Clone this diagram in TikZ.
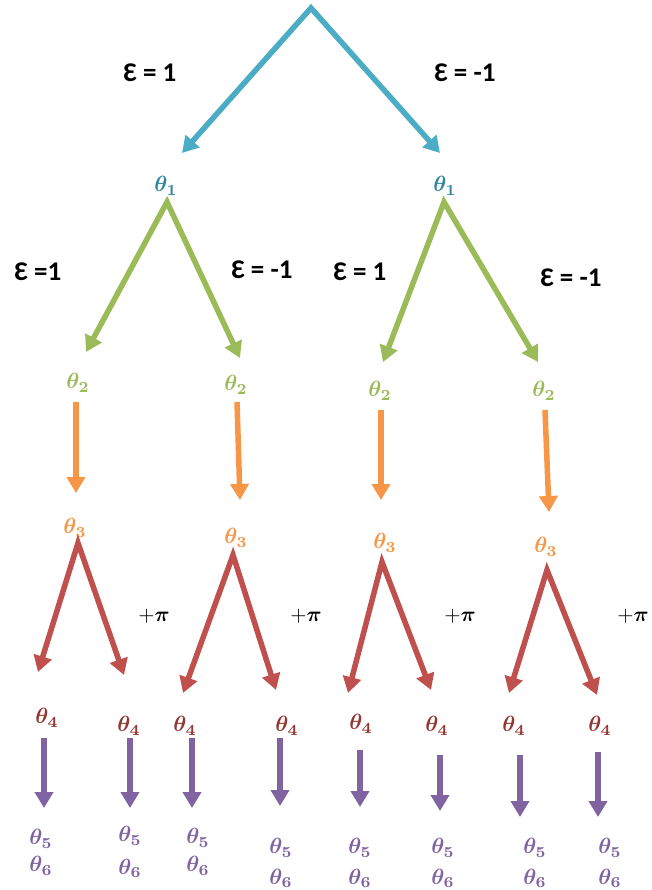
\documentclass[tikz,border=0pt]{standalone}
\usepackage{graphicx}
\usepackage{fontspec}
\setmainfont{Carlito}
\usepackage{bm}
\usetikzlibrary{arrows.meta}
\definecolor{cblue}{HTML}{4BACC6}
\definecolor{cbluet}{HTML}{31859C}
\definecolor{cgreen}{HTML}{9BBB59}
\definecolor{corange}{HTML}{F79646}
\definecolor{cred}{HTML}{C0504D}
\definecolor{cdred}{HTML}{943634}
\definecolor{cpurple}{HTML}{8064A2}
\newcommand\thetalab[1]{\scalebox{2.2}{$\bm{\theta_{#1}}$}}
\newcommand\pilab{\scalebox{2.1}{$+\bm{\pi}$}}
\tikzset{
  tipA/.tip={Triangle[width=18pt,length=16pt]},
  varr/.style={line width=5.5pt,line join=miter,{tipA}-{tipA}},
  sarr/.style={line width=5.5pt,-{tipA}},
  eps/.style={font=\fontsize{27}{30}\selectfont\bfseries,inner sep=0pt},
  thl/.style={inner sep=0pt},
  pil/.style={inner sep=0pt},
}
\begin{document}
\begin{tikzpicture}[x=1pt,y=-1pt]
\useasboundingbox[fill=white] (0,0) rectangle (651,890);
% ---- level 0 -> 1 (blue)
\coordinate (root) at (311,8);
\coordinate (bL) at (182,153);
\coordinate (bR) at (440,153);
\draw[varr,cblue] (bL) -- (root) -- (bR);
\node[eps] (e0a) at (150,73) {Ɛ = 1};
\node[eps] (e0b) at (465,73) {Ɛ = -1};
\node[thl,text=cbluet] (t1a) at (166,186) {\thetalab{1}};
\node[thl,text=cbluet] (t1b) at (445,186) {\thetalab{1}};
% ---- level 1 -> 2 (green)
\coordinate (gA) at (167,202);
\coordinate (gB) at (444,202);
\coordinate (gA1) at (86,352);
\coordinate (gA2) at (240,358);
\coordinate (gB1) at (383,362);
\coordinate (gB2) at (538,362);
\draw[varr,cgreen] (gA1) -- (gA) -- (gA2);
\draw[varr,cgreen] (gB1) -- (gB) -- (gB2);
\node[eps] (e1a) at (38,272) {Ɛ =1};
\node[eps] (e1b) at (262,270) {Ɛ = -1};
\node[eps] (e1c) at (360,272) {Ɛ = 1};
\node[eps] (e1d) at (571,278) {Ɛ = -1};
\node[thl,text=cgreen] (t2a) at (78,383) {\thetalab{2}};
\node[thl,text=cgreen] (t2b) at (236,385) {\thetalab{2}};
\node[thl,text=cgreen] (t2c) at (380,391) {\thetalab{2}};
\node[thl,text=cgreen] (t2d) at (544,391) {\thetalab{2}};
% ---- level 2 -> 3 (orange)
\coordinate (oa0) at (76,402);  \coordinate (oa1) at (76,493);
\coordinate (ob0) at (237,402); \coordinate (ob1) at (240,500);
\coordinate (oc0) at (381,410); \coordinate (oc1) at (381,500);
\coordinate (od0) at (545,410); \coordinate (od1) at (549,512);
\draw[sarr,corange] (oa0) -- (oa1);
\draw[sarr,corange] (ob0) -- (ob1);
\draw[sarr,corange] (oc0) -- (oc1);
\draw[sarr,corange] (od0) -- (od1);
\node[thl,text=corange] (t3a) at (75,528) {\thetalab{3}};
\node[thl,text=corange] (t3b) at (236,538) {\thetalab{3}};
\node[thl,text=corange] (t3c) at (385,543) {\thetalab{3}};
\node[thl,text=corange] (t3d) at (546,547) {\thetalab{3}};
% ---- level 3 -> 4 (red)
\coordinate (ra) at (78,543);  \coordinate (ra1) at (38,672);  \coordinate (ra2) at (124,675);
\coordinate (rb) at (233,555); \coordinate (rb1) at (183,693); \coordinate (rb2) at (276,690);
\coordinate (rc) at (382,562); \coordinate (rc1) at (348,693); \coordinate (rc2) at (431,690);
\coordinate (rd) at (547,570); \coordinate (rd1) at (509,693); \coordinate (rd2) at (597,695);
\draw[varr,cred] (ra1) -- (ra) -- (ra2);
\draw[varr,cred] (rb1) -- (rb) -- (rb2);
\draw[varr,cred] (rc1) -- (rc) -- (rc2);
\draw[varr,cred] (rd1) -- (rd) -- (rd2);
\node[pil] (pa) at (154,616) {\pilab};
\node[pil] (pb) at (306,616) {\pilab};
\node[pil] (pc) at (460,616) {\pilab};
\node[pil] (pd) at (633,616) {\pilab};
\node[thl,text=cdred] (t4a) at (47,718) {\thetalab{4}};
\node[thl,text=cdred] (t4b) at (129,726) {\thetalab{4}};
\node[thl,text=cdred] (t4c) at (185,726) {\thetalab{4}};
\node[thl,text=cdred] (t4d) at (287,726) {\thetalab{4}};
\node[thl,text=cdred] (t4e) at (361,724) {\thetalab{4}};
\node[thl,text=cdred] (t4f) at (437,726) {\thetalab{4}};
\node[thl,text=cdred] (t4g) at (514,726) {\thetalab{4}};
\node[thl,text=cdred] (t4h) at (600,726) {\thetalab{4}};
% ---- level 4 -> 5,6 (purple)
\coordinate (pa0) at (44,738);  \coordinate (pa1) at (44,808);
\coordinate (pb0) at (130,738); \coordinate (pb1) at (130,808);
\coordinate (pc0) at (192,738); \coordinate (pc1) at (192,808);
\coordinate (pd0) at (280,738); \coordinate (pd1) at (280,806);
\coordinate (pe0) at (360,750); \coordinate (pe1) at (360,807);
\coordinate (pf0) at (440,755); \coordinate (pf1) at (440,811);
\coordinate (pg0) at (520,755); \coordinate (pg1) at (520,817);
\coordinate (ph0) at (598,752); \coordinate (ph1) at (598,817);
\foreach \k in {a,b,c,d,e,f,g,h}{\draw[sarr,cpurple] (p\k0) -- (p\k1);}
\node[thl,text=cpurple] (t5a) at (41,839) {\thetalab{5}};
\node[thl,text=cpurple] (t6a) at (41,866) {\thetalab{6}};
\node[thl,text=cpurple] (t5b) at (130,836) {\thetalab{5}};
\node[thl,text=cpurple] (t6b) at (130,868) {\thetalab{6}};
\node[thl,text=cpurple] (t5c) at (198,838) {\thetalab{5}};
\node[thl,text=cpurple] (t6c) at (198,866) {\thetalab{6}};
\node[thl,text=cpurple] (t5d) at (281,848) {\thetalab{5}};
\node[thl,text=cpurple] (t6d) at (281,878) {\thetalab{6}};
\node[thl,text=cpurple] (t5e) at (360,848) {\thetalab{5}};
\node[thl,text=cpurple] (t6e) at (360,878) {\thetalab{6}};
\node[thl,text=cpurple] (t5f) at (443,848) {\thetalab{5}};
\node[thl,text=cpurple] (t6f) at (443,878) {\thetalab{6}};
\node[thl,text=cpurple] (t5g) at (535,848) {\thetalab{5}};
\node[thl,text=cpurple] (t6g) at (535,878) {\thetalab{6}};
\node[thl,text=cpurple] (t5h) at (610,848) {\thetalab{5}};
\node[thl,text=cpurple] (t6h) at (610,878) {\thetalab{6}};
\end{tikzpicture}
\end{document}
